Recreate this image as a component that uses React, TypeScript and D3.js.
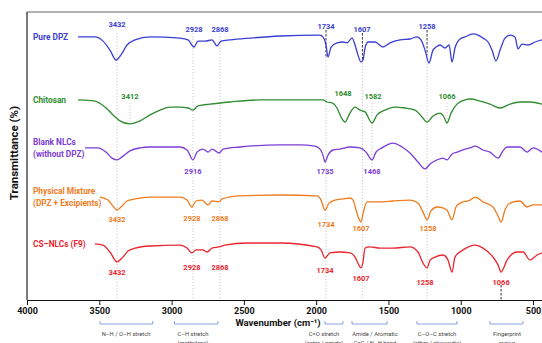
import { useEffect, useRef } from "react";
import * as d3 from "d3";

type Pt = [number, number];
type Peak = { w: number; t: number; text: string };

// spectra: [wavenumber on the axis, transmittance (stacked, arbitrary %)]
const pureDpz: Pt[] = [
  [3647, 87.7], [3530, 87.7], [3474, 86.3], [3426, 83.3], [3384, 80.0], [3350, 81.7], [3308, 85.0],
  [3253, 86.7], [3149, 87.7], [2942, 87.3], [2886, 86.7], [2845, 84.3], [2817, 86.3], [2769, 86.3],
  [2720, 86.7], [2686, 84.7], [2658, 86.3], [2596, 86.7], [2458, 87.3], [2250, 88.0], [1973, 88.3],
  [1953, 87.7], [1932, 85.0], [1918, 81.0], [1897, 84.3], [1856, 85.7], [1814, 86.0], [1787, 85.7],
  [1752, 87.3], [1731, 85.0], [1711, 81.7], [1690, 79.3], [1676, 80.0], [1662, 84.0], [1641, 86.0],
  [1593, 86.0], [1538, 84.3], [1489, 85.7], [1420, 86.7], [1351, 87.0], [1302, 87.7], [1275, 86.7],
  [1247, 83.3], [1220, 79.0], [1192, 83.3], [1171, 84.3], [1143, 85.0], [1109, 84.0], [1081, 85.0],
  [1060, 79.3], [1040, 84.0], [1005, 87.0], [970, 87.7], [915, 88.7], [880, 88.3], [846, 87.3],
  [811, 86.0], [784, 83.3], [756, 79.7], [728, 83.3], [694, 87.3], [659, 88.3], [625, 87.7],
  [604, 83.7], [576, 85.3], [535, 85.0], [486, 86.0], [438, 86.7],
];

const chitosan: Pt[] = [
  [3647, 66.7], [3530, 66.3], [3460, 64.3], [3405, 61.7], [3357, 59.7], [3288, 58.7], [3218, 59.7],
  [3149, 61.7], [3080, 63.3], [3011, 64.3], [2942, 64.3], [2886, 64.0], [2852, 63.3], [2817, 64.7],
  [2734, 65.3], [2596, 66.0], [2388, 66.7], [2112, 66.7], [1953, 66.7], [1925, 66.0], [1890, 65.7],
  [1856, 64.0], [1828, 61.0], [1800, 59.3], [1773, 61.7], [1731, 64.3], [1697, 63.3], [1662, 62.7],
  [1614, 59.0], [1579, 61.7], [1524, 63.3], [1455, 64.3], [1385, 64.0], [1316, 63.3], [1268, 61.0],
  [1233, 59.3], [1192, 61.3], [1143, 62.3], [1116, 61.0], [1095, 59.0], [1067, 62.3], [1026, 65.3],
  [970, 66.7], [936, 67.0], [867, 66.3], [798, 65.3], [728, 64.0], [659, 65.3], [590, 66.0],
  [521, 66.0], [438, 65.3],
];

const blankNlcs: Pt[] = [
  [3599, 50.7], [3509, 50.7], [3454, 49.3], [3412, 47.3], [3377, 46.7], [3343, 47.7], [3288, 49.7],
  [3218, 50.7], [3149, 51.0], [2942, 51.0], [2893, 50.0], [2852, 46.7], [2824, 49.3], [2783, 50.3],
  [2748, 49.3], [2720, 50.3], [2672, 49.0], [2644, 50.3], [2527, 51.0], [2250, 51.7], [2112, 51.7],
  [2008, 51.3], [1973, 50.3], [1953, 48.3], [1939, 46.0], [1918, 48.3], [1883, 50.0], [1835, 50.3],
  [1766, 51.0], [1697, 50.7], [1655, 49.3], [1614, 46.7], [1586, 49.3], [1545, 50.7], [1469, 52.3],
  [1406, 51.0], [1351, 49.0], [1296, 46.0], [1247, 43.7], [1212, 45.3], [1164, 46.7], [1123, 47.3],
  [1095, 46.7], [1060, 48.7], [1026, 49.3], [970, 50.3], [936, 50.7], [901, 51.3], [846, 50.0],
  [798, 49.3], [742, 47.3], [708, 49.7], [680, 51.0], [590, 51.0], [542, 49.3], [500, 50.7],
  [438, 49.3],
];

const physicalMixture: Pt[] = [
  [3495, 34.3], [3440, 33.3], [3405, 31.3], [3377, 30.0], [3350, 31.0], [3308, 33.0], [3253, 33.7],
  [3149, 34.3], [2942, 34.3], [2893, 33.3], [2859, 31.0], [2831, 33.0], [2790, 33.3], [2748, 31.7],
  [2720, 33.0], [2672, 32.7], [2651, 33.7], [2527, 34.7], [2250, 35.0], [1994, 34.7], [1966, 33.3],
  [1939, 30.0], [1911, 32.3], [1870, 33.3], [1814, 33.7], [1766, 34.0], [1745, 33.3], [1724, 30.0],
  [1704, 27.0], [1690, 26.0], [1676, 28.7], [1648, 32.7], [1558, 32.7], [1469, 33.0], [1351, 33.3],
  [1296, 32.3], [1261, 29.3], [1233, 26.7], [1206, 29.7], [1164, 31.0], [1123, 30.7], [1095, 30.0],
  [1060, 26.7], [1033, 31.0], [1005, 32.3], [936, 33.3], [901, 34.3], [846, 32.7], [777, 31.0],
  [742, 28.0], [721, 26.0], [694, 30.0], [659, 32.3], [590, 33.0], [542, 31.0], [500, 31.7],
  [438, 31.7],
];

const csNlcs: Pt[] = [
  [3530, 18.7], [3474, 18.3], [3426, 16.0], [3377, 12.7], [3343, 14.0], [3301, 16.3], [3253, 17.3],
  [3149, 18.0], [2942, 18.3], [2893, 17.3], [2859, 15.7], [2831, 16.7], [2783, 16.7], [2755, 16.0],
  [2720, 17.3], [2672, 17.7], [2630, 18.3], [2478, 19.0], [2250, 19.0], [1994, 17.7], [1966, 16.7],
  [1939, 14.0], [1904, 15.7], [1835, 16.0], [1766, 15.7], [1731, 14.3], [1711, 12.3], [1690, 10.7],
  [1676, 12.7], [1662, 17.3], [1628, 17.7], [1558, 17.3], [1469, 17.3], [1351, 17.7], [1296, 16.0],
  [1261, 12.3], [1233, 10.7], [1212, 13.3], [1178, 14.3], [1123, 15.0], [1088, 13.3], [1060, 9.3],
  [1040, 14.3], [984, 16.7], [901, 18.3], [846, 17.3], [777, 14.3], [742, 11.7], [721, 9.3],
  [680, 13.3], [611, 16.0], [569, 16.0], [521, 13.3], [472, 15.0], [438, 15.7],
];

const seriesNames = [["Pure DPZ"], ["Chitosan"], ["Blank NLCs", "(without DPZ)"], ["Physical Mixture", "(DPZ + Excipients)"], ["CS–NLCs (F9)"]];

const pureDpzPeaks: Peak[] = [
  { w: 3377, t: 91.7, text: "3432" }, { w: 2845, t: 90.3, text: "2928" }, { w: 2665, t: 90.3, text: "2868" },
  { w: 1932, t: 91.3, text: "1734" }, { w: 1683, t: 90.3, text: "1607" }, { w: 1233, t: 91.3, text: "1258" },
];
const chitosanPeaks: Peak[] = [
  { w: 3288, t: 67.7, text: "3412" }, { w: 1814, t: 69.0, text: "1648" },
  { w: 1607, t: 67.7, text: "1582" }, { w: 1095, t: 67.7, text: "1066" },
];
const blankPeaks: Peak[] = [
  { w: 2852, t: 42.7, text: "2916" }, { w: 1939, t: 42.7, text: "1735" }, { w: 1614, t: 42.7, text: "1468" },
];
const mixturePeaks: Peak[] = [
  { w: 3377, t: 27.0, text: "3432" }, { w: 2859, t: 27.3, text: "2928" }, { w: 2665, t: 27.3, text: "2868" },
  { w: 1932, t: 25.3, text: "1734" }, { w: 1690, t: 24.0, text: "1607" }, { w: 1226, t: 24.0, text: "1258" },
];
const csPeaks: Peak[] = [
  { w: 3377, t: 9.3, text: "3432" }, { w: 2859, t: 10.7, text: "2928" }, { w: 2665, t: 10.7, text: "2868" },
  { w: 1939, t: 9.7, text: "1734" }, { w: 1690, t: 7.3, text: "1607" }, { w: 1247, t: 6.0, text: "1258" },
  { w: 721, t: 5.7, text: "1066" },
];

// vertical guides: wavenumber, top and bottom in transmittance units, strong = dark dashed
const guides = [
  { w: 3377, top: 89, bottom: 0, strong: false },
  { w: 2852, top: 89, bottom: 0, strong: false },
  { w: 2665, top: 89, bottom: 0, strong: false },
  { w: 1932, top: 81, bottom: 0, strong: false },
  { w: 1932, top: 90, bottom: 81, strong: true },
  { w: 1680, top: 80, bottom: 0, strong: false },
  { w: 1680, top: 89, bottom: 80, strong: true },
  { w: 1233, top: 81.7, bottom: 0, strong: false },
  { w: 1233, top: 90, bottom: 81.7, strong: true },
  { w: 3288, top: 65.7, bottom: 58.7, strong: false },
  { w: 1614, top: 65.7, bottom: 44, strong: false },
  { w: 1095, top: 65.7, bottom: 59, strong: false },
  { w: 721, top: 5, bottom: 0, strong: true },
];

const xTicks = [4000, 3500, 3000, 2500, 2000, 1500, 1000, 500];

const regionNames = [
  ["N–H / O–H stretch"], ["C–H stretch", "(methylene)"], ["C=O stretch", "(ester / amide)"],
  ["Amide / Aromatic", "C=C / N–H bend"], ["C–O–C stretch", "(ether / glycosidic)"], ["Fingerprint", "region"],
];
const regionRanges: [number, number][] = [
  [3495, 3130], [2980, 2680], [1939, 1815], [1752, 1510], [1303, 1026], [798, 570],
];
// where each region's caption is centred, in wavenumbers
const regionLabelAt = [3315, 2852, 1946, 1593, 1164, 680];

const colors = ["#3a3ed2", "#2f8c30", "#7c3dd6", "#f07c1e", "#e8262f"];
const font = "Roboto, 'Noto Sans', sans-serif";

export default function App() {
  const ref = useRef<SVGSVGElement>(null);

  useEffect(() => {
    if (!ref.current) return;
    const svg = d3.select(ref.current);
    svg.selectAll("*").remove();

    const width = 542;
    const height = 343;

    const x = d3.scaleLinear().domain([4000, 400]).range([27, 547.5]);
    const y = d3.scaleLinear().domain([0, 96]).range([300, 12]);

    svg.attr("width", width).attr("height", height).style("font-family", font);
    svg.append("rect").attr("width", width).attr("height", height).attr("fill", "#fff");

    // frame
    svg.append("line")
      .attr("x1", x(4000)).attr("x2", x(400)).attr("y1", y(96)).attr("y2", y(96))
      .attr("stroke", "#666").attr("stroke-width", 1);
    svg.append("line")
      .attr("x1", x(4000)).attr("x2", x(4000)).attr("y1", y(96)).attr("y2", y(0))
      .attr("stroke", "#222").attr("stroke-width", 1.2);

    // guides
    svg.append("g")
      .selectAll("line")
      .data(guides)
      .join("line")
      .attr("x1", (d) => x(d.w)).attr("x2", (d) => x(d.w))
      .attr("y1", (d) => y(d.top)).attr("y2", (d) => y(d.bottom))
      .attr("stroke", (d) => (d.strong ? "#333" : "#bdbdbd"))
      .attr("stroke-width", (d) => (d.strong ? 1 : 0.8))
      .attr("stroke-dasharray", (d) => (d.strong ? "2.5,1.5" : "1.2,1.8"));

    // x axis
    const axis = svg.append("g")
      .attr("transform", `translate(0,${y(0)})`)
      .call(d3.axisBottom(x).tickValues(xTicks).tickSize(5).tickSizeOuter(0).tickFormat(d3.format("d")));
    axis.select(".domain").attr("stroke", "#111").attr("stroke-width", 1.2);
    axis.selectAll(".tick line").attr("stroke", "#111");
    axis.selectAll("text")
      .style("font-family", font)
      .style("font-size", "9px")
      .style("font-weight", "bold")
      .attr("fill", "#111");

    svg.append("text")
      .attr("x", 278).attr("y", 326)
      .attr("text-anchor", "middle")
      .style("font-size", "9.5px").style("font-weight", "bold")
      .attr("fill", "#111")
      .text("Wavenumber (cm⁻¹)");

    svg.append("text")
      .attr("transform", "rotate(-90)")
      .attr("x", -153).attr("y", 18)
      .attr("text-anchor", "middle")
      .style("font-size", "11.5px").style("font-weight", "bold")
      .attr("fill", "#111")
      .text("Transmittance (%)");

    // spectra
    const line = d3.line<Pt>().x((d) => x(d[0])).y((d) => y(d[1])).curve(d3.curveMonotoneX);
    const spectra = [pureDpz, chitosan, blankNlcs, physicalMixture, csNlcs];
    const peaks = [pureDpzPeaks, chitosanPeaks, blankPeaks, mixturePeaks, csPeaks];

    spectra.forEach((data, i) => {
      svg.append("path")
        .datum(data)
        .attr("d", line)
        .attr("fill", "none")
        .attr("stroke", colors[i])
        .attr("stroke-width", 1.3)
        .attr("stroke-linejoin", "round");

      const names = seriesNames[i];
      const cy = y(data[0][1]);
      svg.append("g")
        .selectAll("text")
        .data(names)
        .join("text")
        .attr("x", 33)
        .attr("y", (_, j) => cy + (j - (names.length - 1) / 2) * 12.5)
        .attr("dominant-baseline", "central")
        .style("font-size", "8.3px").style("font-weight", "bold")
        .attr("fill", colors[i])
        .text((d) => d);

      svg.append("g")
        .selectAll("text")
        .data(peaks[i])
        .join("text")
        .attr("x", (d) => x(d.w))
        .attr("y", (d) => y(d.t))
        .attr("text-anchor", "middle")
        .attr("dominant-baseline", "central")
        .style("font-size", "7.5px").style("font-weight", "bold")
        .attr("fill", colors[i])
        .text((d) => d.text);
    });

    // region brackets under the axis
    const regions = svg.append("g");
    regionRanges.forEach((r, i) => {
      const x0 = x(r[0]);
      const x1 = x(r[1]);
      regions.append("path")
        .attr("d", `M${x0},321V324H${x1}V321`)
        .attr("fill", "none")
        .attr("stroke", "#6a8ad8")
        .attr("stroke-width", 0.8);
      regions.append("g")
        .selectAll("text")
        .data(regionNames[i])
        .join("text")
        .attr("x", x(regionLabelAt[i]))
        .attr("y", (_, j) => 336 + j * 8.5)
        .attr("text-anchor", "middle")
        .style("font-size", "5.8px")
        .attr("fill", "#444")
        .text((d) => d);
    });
  }, []);

  return (
    <div style={{ position: "fixed", left: 0, top: 0 }}>
      <svg ref={ref}></svg>
    </div>
  );
}
